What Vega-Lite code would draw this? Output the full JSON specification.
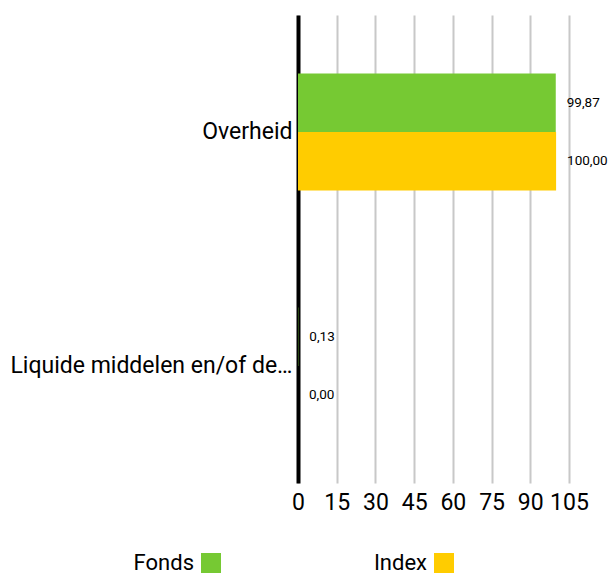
{
  "$schema": "https://vega.github.io/schema/vega-lite/v6.json",
  "width": 271,
  "height": 468,
  "autosize": "none",
  "padding": {"left": 298, "top": 15, "right": 45, "bottom": 93},
  "background": "white",
  "config": {
    "view": {"stroke": null},
    "font": "Roboto",
    "locale": {"number": {"decimal": ",", "thousands": ".", "grouping": [3], "currency": ["€", ""]}}
  },
  "data": {
    "values": [
      {"category": "Overheid", "series": "Fonds", "value": 99.87},
      {"category": "Overheid", "series": "Index", "value": 100.0},
      {"category": "Liquide middelen en/of derivaten", "series": "Fonds", "value": 0.13},
      {"category": "Liquide middelen en/of derivaten", "series": "Index", "value": 0.0}
    ]
  },
  "encoding": {
    "y": {
      "field": "category",
      "type": "nominal",
      "sort": null,
      "scale": {"paddingInner": 0.5, "paddingOuter": 0.25},
      "axis": {
        "title": null,
        "domainColor": "#000000",
        "domainWidth": 4,
        "ticks": false,
        "labelFontSize": 23,
        "labelColor": "#000000",
        "labelPadding": 6,
        "labelLimit": 288
      }
    },
    "yOffset": {"field": "series", "type": "nominal", "sort": ["Fonds", "Index"]},
    "x": {
      "field": "value",
      "type": "quantitative",
      "scale": {"domain": [0, 105], "nice": false},
      "axis": {
        "title": null,
        "values": [0, 15, 30, 45, 60, 75, 90, 105],
        "domain": false,
        "ticks": false,
        "grid": true,
        "gridColor": "#c8c8c8",
        "gridWidth": 2,
        "labelFontSize": 23,
        "labelColor": "#000000",
        "labelPadding": 8,
        "labelFlush": false,
        "labelOverlap": false
      }
    }
  },
  "layer": [
    {
      "mark": {"type": "bar"},
      "encoding": {
        "color": {
          "field": "series",
          "type": "nominal",
          "scale": {"domain": ["Fonds", "Index"], "range": ["#76c933", "#ffcc00"]},
          "legend": {
            "title": null,
            "orient": "none",
            "direction": "horizontal",
            "legendX": -98,
            "legendY": 537,
            "symbolType": "square",
            "symbolSize": 400,
            "symbolStrokeWidth": 0,
            "labelFontSize": 22,
            "labelColor": "#000000",
            "labelAlign": "right",
            "labelOffset": -28,
            "columnPadding": 152,
            "padding": 0
          }
        }
      }
    },
    {
      "mark": {"type": "text", "align": "left", "dx": 11, "fontSize": 13.5, "color": "#000000"},
      "encoding": {
        "text": {"field": "value", "type": "quantitative", "format": ".2f"}
      }
    }
  ]
}
